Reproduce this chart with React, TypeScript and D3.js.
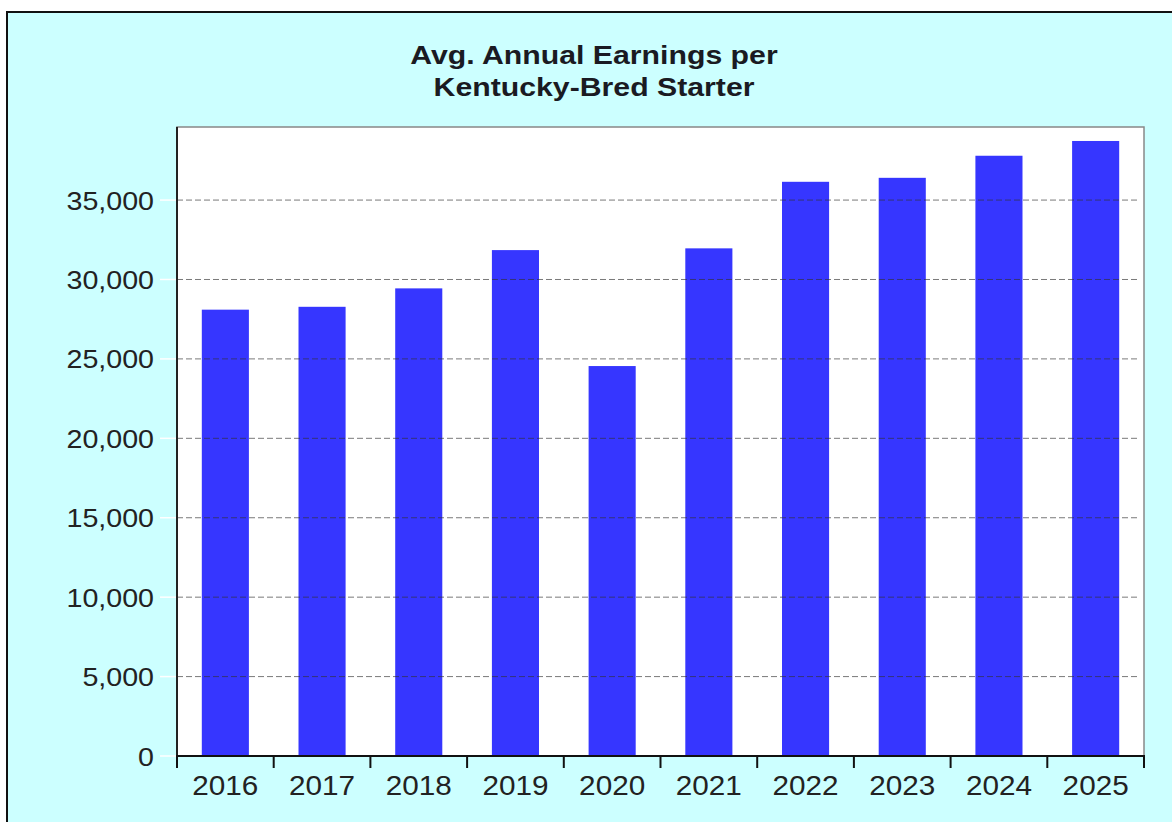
import React, { useMemo } from 'react';
import * as d3 from 'd3';

const years = ['2016', '2017', '2018', '2019', '2020', '2021', '2022', '2023', '2024', '2025'];
const earnings = [28100, 28280, 29440, 31850, 24550, 31960, 36150, 36400, 37790, 38720];
const yTicks = [0, 5000, 10000, 15000, 20000, 25000, 30000, 35000];
const titleLines = ['Avg. Annual Earnings per', 'Kentucky-Bred Starter'];

const W = 1172;
const H = 822;
const FONT = '"Liberation Sans", Arial, Helvetica, sans-serif';

export default function App() {
  const plot = { left: 177, right: 1144, top: 127, bottom: 756 };

  const x = useMemo(
    () => d3.scaleBand<string>().domain(years).range([plot.left, plot.right]).padding(0),
    []
  );
  const y = useMemo(
    () => d3.scaleLinear().domain([0, 39600]).range([plot.bottom, plot.top]),
    []
  );
  const fmt = d3.format(',');
  const barW = x.bandwidth() * 0.487;

  // band boundaries for the x tick marks
  const xTickPos = years.map((yr) => x(yr)!).concat([plot.right]);

  return (
    <svg
      width={W}
      height={H}
      style={{ position: 'absolute', left: 0, top: 0, display: 'block' }}
    >
      <rect x={0} y={0} width={W} height={H} fill="#ffffff" />
      {/* outer chart frame, cropped at right and bottom */}
      <rect x={7} y={12} width={1180} height={840} fill="#ccffff" stroke="#111" strokeWidth={2} />

      {/* title */}
      {titleLines.map((t, i) => (
        <text
          key={t}
          transform={`translate(594, ${64 + i * 32}) scale(1.21, 1)`}
          textAnchor="middle"
          fontFamily={FONT}
          fontWeight="bold"
          fontSize={25}
          fill="#1a1a22"
        >
          {t}
        </text>
      ))}

      {/* plot area */}
      <rect
        x={plot.left}
        y={plot.top}
        width={plot.right - plot.left}
        height={plot.bottom - plot.top}
        fill="#ffffff"
        stroke="#888"
        strokeWidth={1.5}
      />

      {/* bars */}
      {years.map((yr, i) => (
        <rect
          key={yr}
          x={x(yr)! + (x.bandwidth() - barW) / 2}
          y={y(earnings[i])}
          width={barW}
          height={y(0) - y(earnings[i])}
          fill="#3636ff"
        />
      ))}

      {/* gridlines drawn over the bars */}
      {yTicks
        .filter((v) => v > 0)
        .map((v) => (
          <line
            key={v}
            x1={plot.left}
            x2={plot.right - 4}
            y1={y(v)}
            y2={y(v)}
            stroke="#333"
            strokeOpacity={0.65}
            strokeWidth={1}
            strokeDasharray="6,3"
          />
        ))}

      {/* faint white tick stubs on the left */}
      {yTicks.map((v) => (
        <line key={'s' + v} x1={160} x2={plot.left} y1={y(v)} y2={y(v)} stroke="#ffffff" strokeWidth={1.5} />
      ))}

      {/* y axis labels */}
      {yTicks.map((v) => (
        <text
          key={'l' + v}
          transform={`translate(154, ${y(v)}) scale(1.08, 1)`}
          dy="0.36em"
          textAnchor="end"
          fontFamily={FONT}
          fontSize={26.5}
          fill="#222"
        >
          {fmt(v)}
        </text>
      ))}

      {/* axes */}
      <line x1={plot.left} x2={plot.left} y1={plot.top} y2={plot.bottom + 1} stroke="#222" strokeWidth={2} />
      <line x1={plot.left - 1} x2={plot.right + 1} y1={plot.bottom} y2={plot.bottom} stroke="#111" strokeWidth={2} />
      {xTickPos.map((px, i) => (
        <line key={'t' + i} x1={px} x2={px} y1={plot.bottom} y2={plot.bottom + 12} stroke="#111" strokeWidth={2} />
      ))}

      {/* x axis labels */}
      {years.map((yr) => (
        <text
          key={'x' + yr}
          transform={`translate(${x(yr)! + x.bandwidth() / 2}, 795) scale(1.08, 1)`}
          textAnchor="middle"
          fontFamily={FONT}
          fontSize={27.5}
          fill="#222"
        >
          {yr}
        </text>
      ))}
    </svg>
  );
}
